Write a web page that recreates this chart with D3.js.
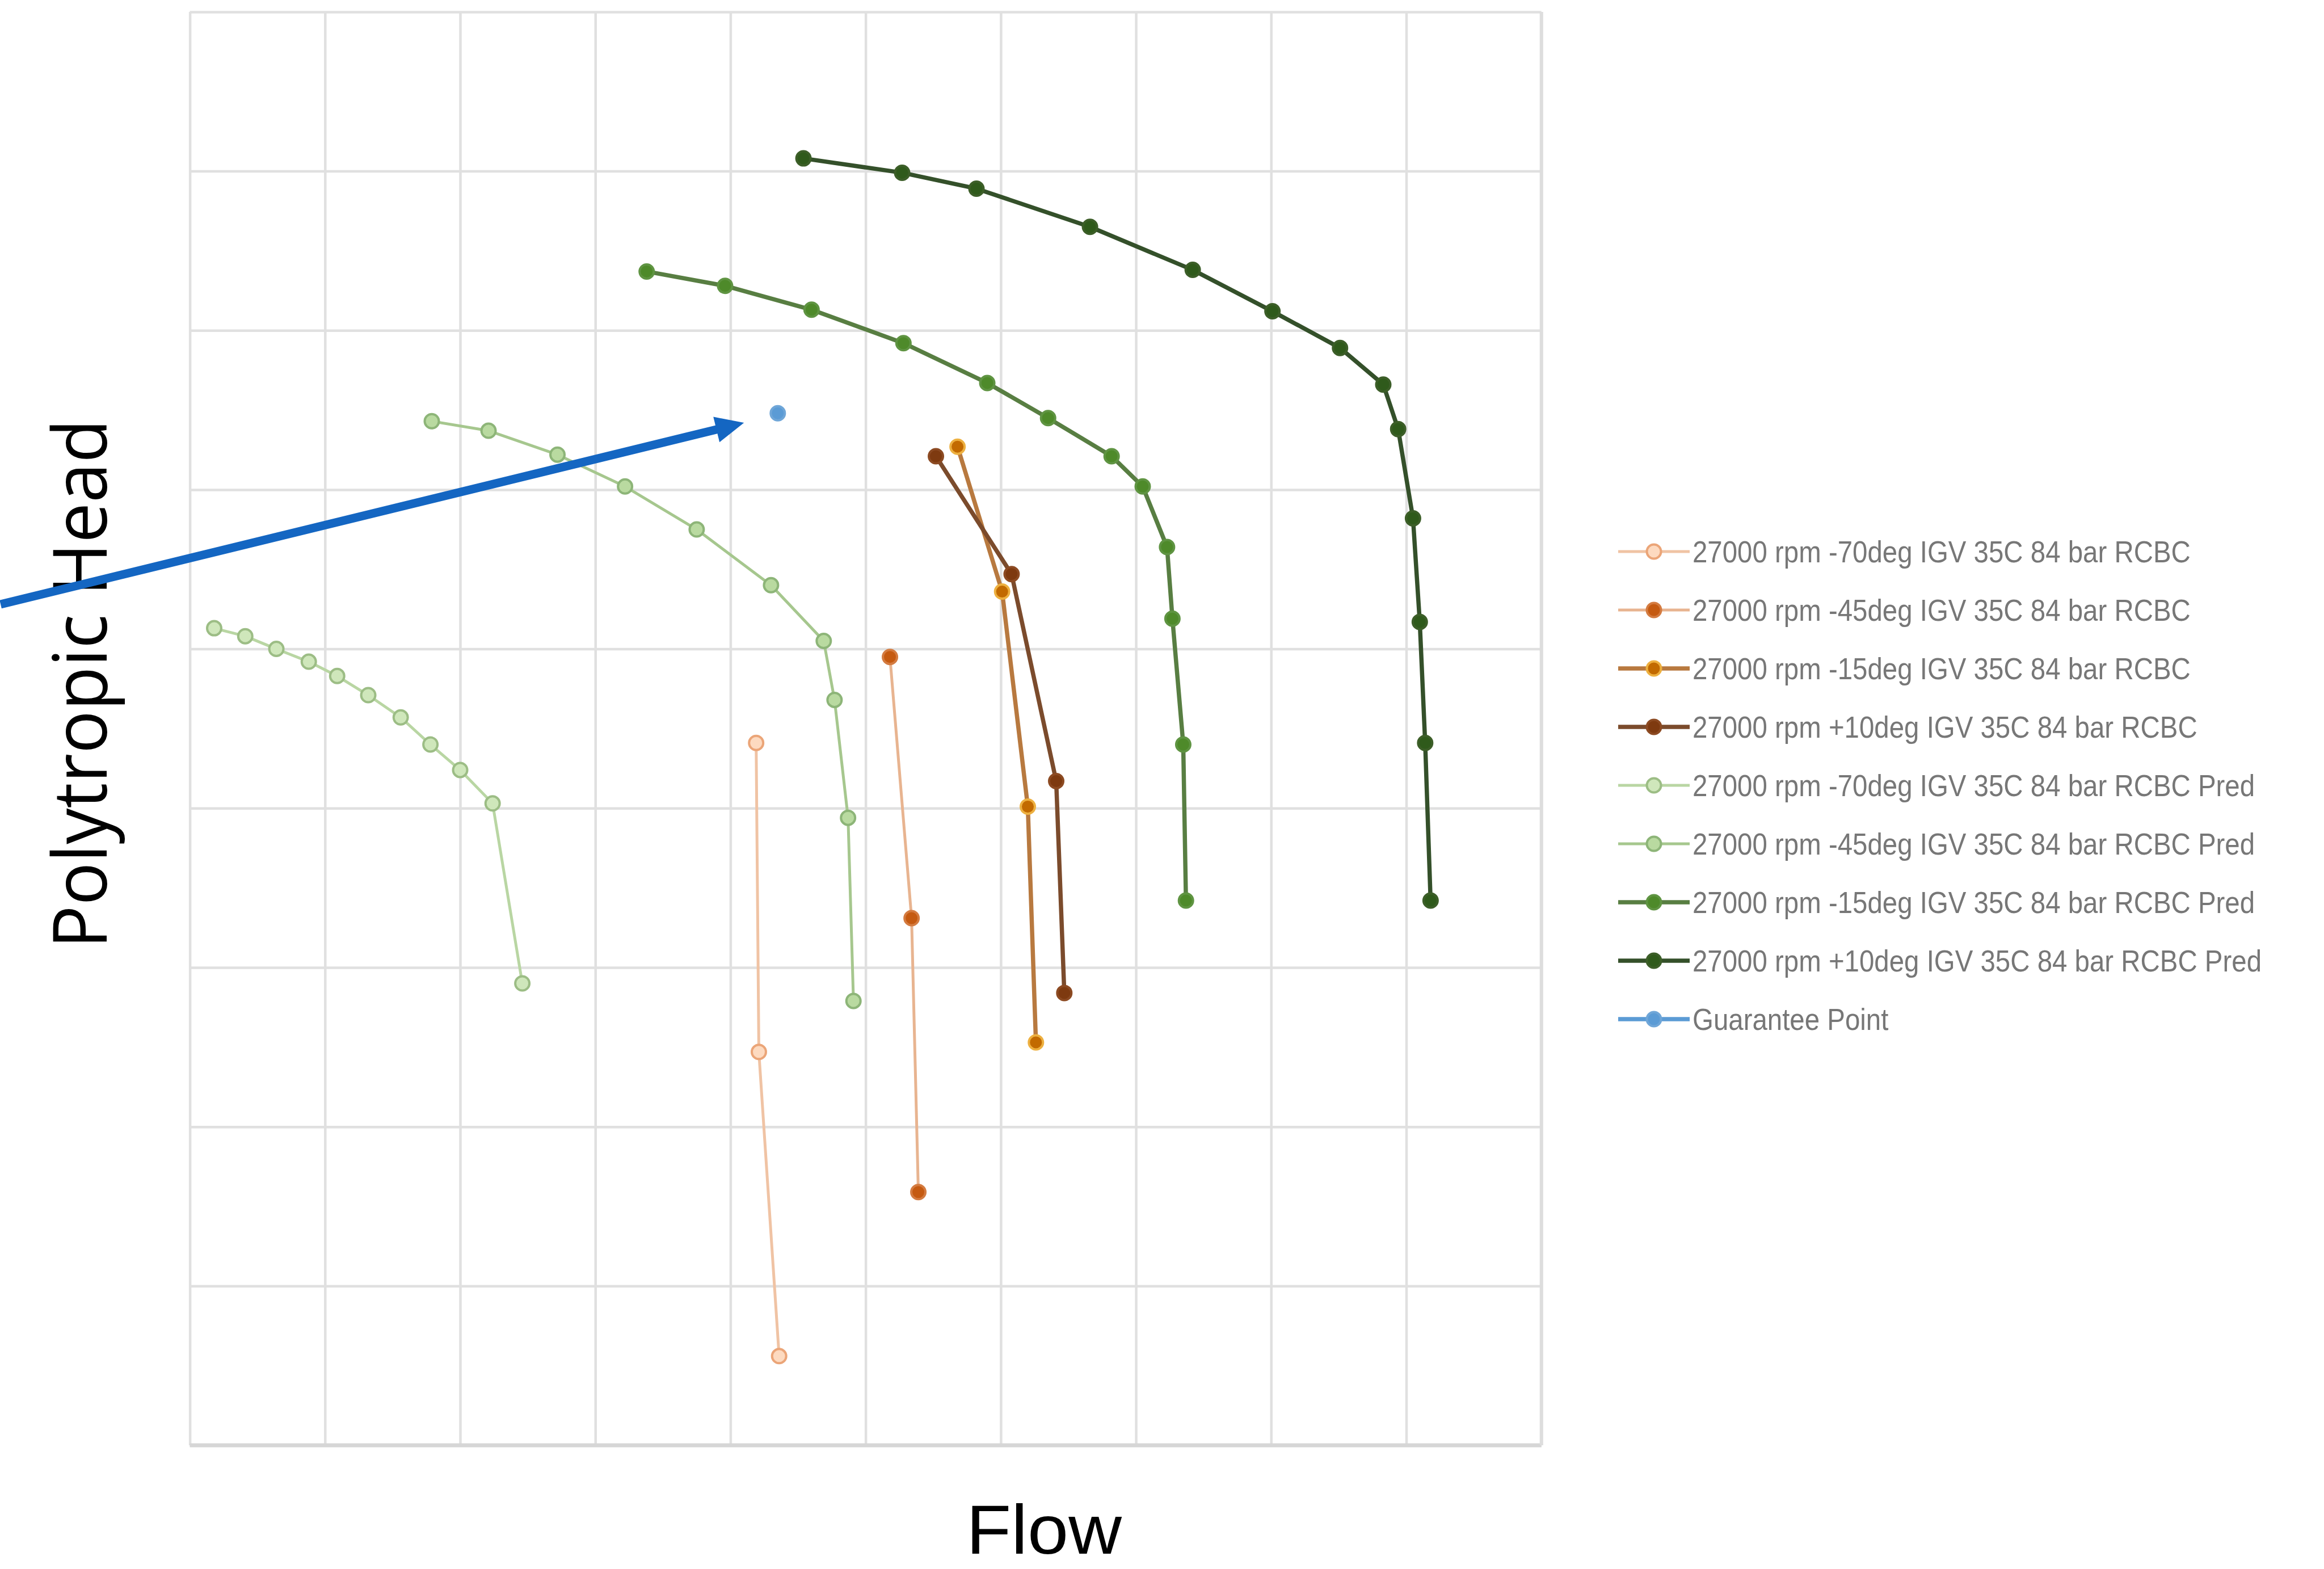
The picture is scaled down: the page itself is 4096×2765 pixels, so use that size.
<!DOCTYPE html>
<html>
<head>
<meta charset="utf-8">
<script src="https://cdn.jsdelivr.net/npm/d3@7"></script>
<style>
  html, body { margin: 0; padding: 0; background: #ffffff; }
  svg { display: block; }
</style>
</head>
<body>
<svg id="chart" width="4096" height="2765"></svg>
<script>
// Compressor map at 27000 rpm: measured and predicted head/flow curves
// for four inlet guide vane settings, plus the guarantee point.

const seriesNames = [
  "27000 rpm -70deg IGV 35C 84 bar RCBC",
  "27000 rpm -45deg IGV 35C 84 bar RCBC",
  "27000 rpm -15deg IGV 35C 84 bar RCBC",
  "27000 rpm +10deg IGV 35C 84 bar RCBC",
  "27000 rpm -70deg IGV 35C 84 bar RCBC Pred",
  "27000 rpm -45deg IGV 35C 84 bar RCBC Pred",
  "27000 rpm -15deg IGV 35C 84 bar RCBC Pred",
  "27000 rpm +10deg IGV 35C 84 bar RCBC Pred",
  "Guarantee Point"
];

// measured (test) curves
const flowM70 = [41.9, 42.1, 43.6];
const headM70 = [44.1, 24.7, 5.6];
const flowM45 = [51.8, 53.4, 53.9];
const headM45 = [49.5, 33.1, 15.9];
const flowM15 = [56.8, 60.1, 62.0, 62.6];
const headM15 = [62.7, 53.6, 40.1, 25.3];
const flowP10 = [55.2, 60.8, 64.1, 64.7];
const headP10 = [62.1, 54.7, 41.7, 28.4];

// predicted curves
const flowM70Pred = [1.8, 4.1, 6.4, 8.8, 10.9, 13.2, 15.6, 17.8, 20.0, 22.4, 24.6];
const headM70Pred = [51.3, 50.8, 50.0, 49.2, 48.3, 47.1, 45.7, 44.0, 42.4, 40.3, 29.0];
const flowM45Pred = [17.9, 22.1, 27.2, 32.2, 37.5, 43.0, 46.9, 47.7, 48.7, 49.1];
const headM45Pred = [64.3, 63.7, 62.2, 60.2, 57.5, 54.0, 50.5, 46.8, 39.4, 27.9];
const flowM15Pred = [33.8, 39.6, 46.0, 52.8, 59.0, 63.5, 68.2, 70.5, 72.3, 72.7, 73.5, 73.7];
const headM15Pred = [73.7, 72.8, 71.3, 69.2, 66.7, 64.5, 62.1, 60.2, 56.4, 51.9, 44.0, 34.2];
const flowP10Pred = [45.4, 52.7, 58.2, 66.6, 74.2, 80.1, 85.1, 88.3, 89.4, 90.5, 91.0, 91.4, 91.8];
const headP10Pred = [80.8, 79.9, 78.9, 76.5, 73.8, 71.2, 68.9, 66.6, 63.8, 58.2, 51.7, 44.1, 34.2];

// guarantee point
const flowGuarantee = [43.5];
const headGuarantee = [64.8];

// callout arrow pointing at the guarantee point (tail, tip)
const arrowFlow = [-14.0, 41.0];
const arrowHead = [52.8, 64.2];

// gridline positions (axis values are not labelled)
const flowTicks = d3.range(0, 101, 10);
const headTicks = d3.range(0, 91, 10);

const flowSets = [flowM70, flowM45, flowM15, flowP10, flowM70Pred, flowM45Pred, flowM15Pred, flowP10Pred, flowGuarantee];
const headSets = [headM70, headM45, headM15, headP10, headM70Pred, headM45Pred, headM15Pred, headP10Pred, headGuarantee];

// ---- appearance ----
const styles = [
  { line: "#F0C3A4", lw: 5,   fill: "#FDDAC0", stroke: "#EBA578" },
  { line: "#E8B490", lw: 5,   fill: "#C55A11", stroke: "#D47B40" },
  { line: "#B8793F", lw: 7.5, fill: "#C26A00", stroke: "#EDB040" },
  { line: "#7B4B2C", lw: 7.5, fill: "#7E3A10", stroke: "#8C4A22" },
  { line: "#B9D6A3", lw: 5,   fill: "#CFE7BB", stroke: "#9CBD85" },
  { line: "#A6C78E", lw: 5,   fill: "#B9DAA0", stroke: "#8DB578" },
  { line: "#587E42", lw: 7.5, fill: "#4E8A2A", stroke: "#5F9442" },
  { line: "#34502A", lw: 7.5, fill: "#2F5A1B", stroke: "#3C5E28" },
  { line: "#5B9BD5", lw: 7.5, fill: "#5B9BD5", stroke: "#6FA6D8" }
];
const markerR = 12.5;

const plot = { left: 334.6, top: 20.9, right: 2716.7, bottom: 2547 };

const svg = d3.select("#chart");

const x = d3.scaleLinear().domain([0, 100]).range([plot.left, plot.right]);
const y = d3.scaleLinear().domain([0, 90]).range([plot.bottom, plot.top]);

// ---- gridlines ----
const grid = svg.append("g");
grid.append("g")
  .attr("transform", `translate(0,${plot.bottom})`)
  .call(d3.axisBottom(x).tickValues(flowTicks).tickSize(-(plot.bottom - plot.top)).tickFormat(""))
  .call(g => g.select(".domain").remove())
  .call(g => g.selectAll(".tick line").attr("stroke", "#E0E0E0").attr("stroke-width", 4.5));
grid.append("g")
  .attr("transform", `translate(${plot.left},0)`)
  .call(d3.axisLeft(y).tickValues(headTicks).tickSize(-(plot.right - plot.left)).tickFormat(""))
  .call(g => g.select(".domain").remove())
  .call(g => g.selectAll(".tick line").attr("stroke", "#E0E0E0").attr("stroke-width", 4.5));

// plot-area frame: slightly heavier along the bottom and right
svg.append("line")
  .attr("x1", x(0)).attr("x2", x(100)).attr("y1", y(0)).attr("y2", y(0))
  .attr("stroke", "#D6D6D6").attr("stroke-width", 7);
svg.append("line")
  .attr("x1", x(100)).attr("x2", x(100)).attr("y1", y(90)).attr("y2", y(0))
  .attr("stroke", "#DDDDDD").attr("stroke-width", 6);

// ---- series ----
const series = seriesNames.map((name, i) => ({
  name,
  style: styles[i],
  pts: flowSets[i].map((f, j) => ({ flow: f, head: headSets[i][j] }))
}));

const lineGen = d3.line().x(d => x(d.flow)).y(d => y(d.head));

const sg = svg.append("g");
series.forEach(s => {
  const g = sg.append("g");
  if (s.pts.length > 1) {
    g.append("path")
      .datum(s.pts)
      .attr("d", lineGen)
      .attr("fill", "none")
      .attr("stroke", s.style.line)
      .attr("stroke-width", s.style.lw)
      .attr("stroke-linejoin", "round");
  }
  g.selectAll("circle").data(s.pts).join("circle")
    .attr("cx", d => x(d.flow))
    .attr("cy", d => y(d.head))
    .attr("r", markerR)
    .attr("fill", s.style.fill)
    .attr("stroke", s.style.stroke)
    .attr("stroke-width", 4);
});

// ---- axis titles ----
svg.append("text")
  .attr("x", 1840).attr("y", 2738)
  .attr("text-anchor", "middle")
  .attr("font-family", "'Liberation Sans', 'Open Sans', sans-serif")
  .attr("font-size", 122)
  .attr("fill", "#000")
  .attr("textLength", 274)
  .attr("lengthAdjust", "spacingAndGlyphs")
  .text("Flow");

svg.append("text")
  .attr("transform", "translate(188,1205) rotate(-90)")
  .attr("text-anchor", "middle")
  .attr("font-family", "'Open Sans', 'Liberation Sans', sans-serif")
  .attr("font-size", 132)
  .attr("fill", "#000")
  .attr("textLength", 933)
  .attr("lengthAdjust", "spacingAndGlyphs")
  .text("Polytropic Head");

// ---- legend ----
const legend = svg.append("g").attr("transform", "translate(2852,972)");
const rowGap = 103;
const legendFont = "'Liberation Sans Narrow', 'Liberation Sans', sans-serif";
const rows = legend.selectAll("g.row").data(series).join("g")
  .attr("class", "row")
  .attr("transform", (d, i) => `translate(0,${i * rowGap})`);
rows.append("line")
  .attr("x1", 0).attr("x2", 126).attr("y1", 0).attr("y2", 0)
  .attr("stroke", d => d.style.line)
  .attr("stroke-width", d => d.style.lw);
rows.append("circle")
  .attr("cx", 63).attr("cy", 0).attr("r", markerR)
  .attr("fill", d => d.style.fill)
  .attr("stroke", d => d.style.stroke)
  .attr("stroke-width", 4);
const labelGroups = rows.append("g").attr("transform", "translate(131,0)");
const labels = labelGroups.append("text")
  .attr("x", 0).attr("y", 0)
  .attr("dy", "0.35em")
  .attr("font-family", legendFont)
  .attr("font-size", 53)
  .attr("fill", "#777777")
  .text(d => d.name);
// condense labels horizontally so the first entry spans its measured width
const natural0 = labels.nodes()[0].getComputedTextLength();
const squeeze = Math.min(1, 878 / natural0);
labelGroups.attr("transform", `translate(131,0) scale(${squeeze},1)`);

// ---- callout arrow ----
const ax0 = x(arrowFlow[0]), ay0 = y(arrowHead[0]);
const ax1 = x(arrowFlow[1]), ay1 = y(arrowHead[1]);
const ang = Math.atan2(ay1 - ay0, ax1 - ax0);
const headLen = 50, headHalf = 23;
const bx = ax1 - headLen * Math.cos(ang), by = ay1 - headLen * Math.sin(ang);
const arrowColor = "#1466C2";
svg.append("line")
  .attr("x1", ax0).attr("y1", ay0).attr("x2", bx + 4 * Math.cos(ang)).attr("y2", by + 4 * Math.sin(ang))
  .attr("stroke", arrowColor).attr("stroke-width", 15);
svg.append("path")
  .attr("d", d3.line()([
    [ax1, ay1],
    [bx + headHalf * Math.sin(ang), by - headHalf * Math.cos(ang)],
    [bx - headHalf * Math.sin(ang), by + headHalf * Math.cos(ang)]
  ]) + "Z")
  .attr("fill", arrowColor);
</script>
</body>
</html>
